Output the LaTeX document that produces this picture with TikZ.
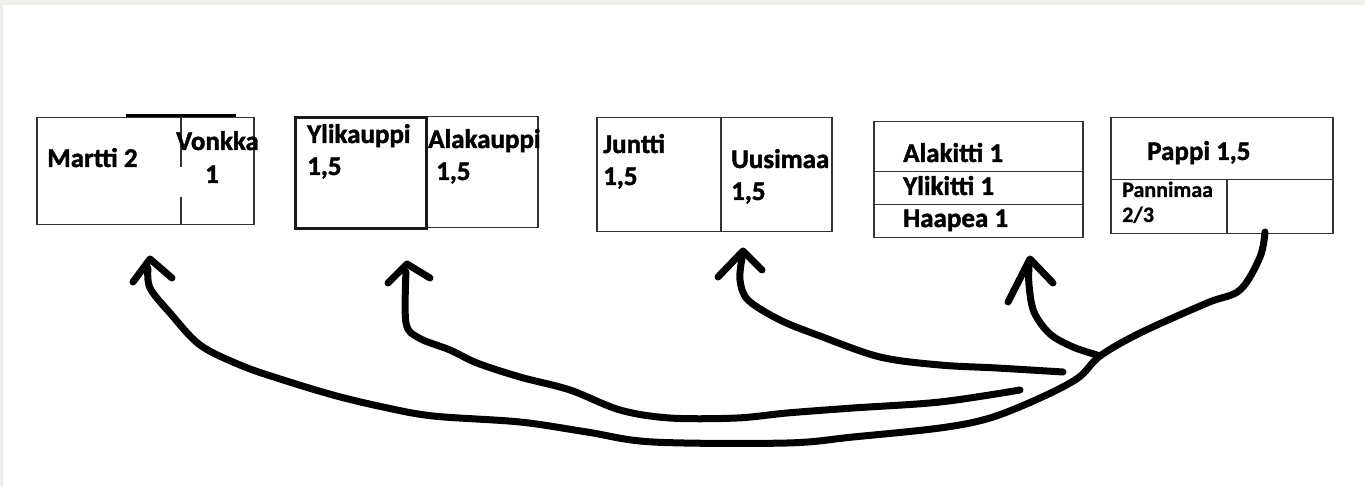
\documentclass[tikz,border=0pt]{standalone}
\usepackage{fontspec}
\setmainfont{Carlito}
\newfontfamily\heavy[BoldFeatures={FakeBold=1.5}]{Carlito}
\newfontfamily\heavysm[BoldFeatures={FakeBold=0.8}]{Carlito}
\definecolor{edgegray}{RGB}{240,238,235}
\begin{document}
\begin{tikzpicture}[x=1pt,y=-1pt,
  cell/.style={draw=black!80, line width=1.5pt, rectangle, inner sep=0pt, anchor=north west},
  lbl/.style={anchor=base west, inner sep=0pt, font=\heavy\fontsize{27}{30}\selectfont\bfseries},
  smalllbl/.style={anchor=base west, inner sep=0pt, font=\heavysm\fontsize{22}{25}\selectfont\bfseries},
  stroke/.style={line width=7pt, line cap=round, line join=round, black}]
\useasboundingbox (0,0) rectangle (1365,486);
\fill[white] (0,0) rectangle (1365,486);
\fill[edgegray] (0,0) rectangle (1365,5);
\fill[edgegray] (0,0) rectangle (3,486);

% boxes
\node[cell, minimum width=217pt, minimum height=107pt] (box1) at (36,117) {};
\draw[draw=black!80, line width=1.5pt] (181,117) -- (181,167) (181,197) -- (181,224);
\draw[line width=3pt] (126,116) -- (236,116);
\node[cell, minimum width=112pt, minimum height=111pt] (alak) at (425,116) {};
\node[cell, line width=3pt, draw=black!90, minimum width=131pt, minimum height=111pt] (ylik) at (294,116) {};
\node[cell, minimum width=124pt, minimum height=114pt] (juntti) at (596,117) {};
\node[cell, minimum width=111pt, minimum height=114pt] (uusi) at (720,117) {};
\node[cell, minimum width=209pt, minimum height=50pt] (alakitti) at (873,121) {};
\node[cell, minimum width=209pt, minimum height=33pt] (ylikitti) at (873,171) {};
\node[cell, minimum width=209pt, minimum height=33pt] (haapea) at (873,204) {};
\node[cell, minimum width=222pt, minimum height=62pt] (pappi) at (1110,117) {};
\node[cell, minimum width=116pt, minimum height=54pt] (pannimaa) at (1110,179) {};
\node[cell, minimum width=106pt, minimum height=54pt] (empty) at (1226,179) {};

% labels
\node[lbl] (t1) at (47,167) {Martti 2};
\node[lbl] (t2) at (176,150) {Vonkka};
\node[lbl] (t3) at (205,183) {1};
\node[lbl] (t4) at (307,143) {Ylikauppi};
\node[lbl] (t5) at (307,175) {1,5};
\node[lbl] (t6) at (428,148) {Alakauppi};
\node[lbl] (t7) at (436,180) {1,5};
\node[lbl] (t8) at (603,153) {Juntti};
\node[lbl] (t9) at (603,185) {1,5};
\node[lbl] (t10) at (731,168) {Uusimaa};
\node[lbl] (t11) at (731,200) {1,5};
\node[lbl] (t12) at (903,162) {Alakitti 1};
\node[lbl] (t13) at (903,195) {Ylikitti 1};
\node[lbl] (t14) at (903,227) {Haapea 1};
\node[lbl] (t15) at (1147,160) {Pappi 1,5};
\node[smalllbl] (t16) at (1122,197) {Pannimaa};
\node[smalllbl] (t17) at (1122,222) {2/3};

% connector coordinates
\coordinate (start) at (1265,232);
\coordinate (tipA) at (150,259);
\coordinate (tipB) at (407,264);
\coordinate (tipC) at (743,251);
\coordinate (tipD) at (1030,259);
\coordinate (jB) at (1020,390);
\coordinate (jC) at (1063,372);
\coordinate (jD) at (1097,355);

% main curve: Pappi -> Martti
\draw[stroke] plot[smooth, tension=0.55] coordinates {(start) (1260,257) (1240,290) (1207,303) (1140,333) (1100,356) (1078,378) (1040,398) (990,418) (940,428) (853,437) (787,443) (653,442) (587,432) (520,422) (433,416) (383,407) (333,395) (277,378) (240,365) (200,345) (170,313) (150,288) (148,268)};
\draw[stroke] (133,282) -- (tipA) -- (172,278);

% Ylikauppi
\draw[stroke] plot[smooth, tension=0.55] coordinates {(jB) (940,402) (853,408) (787,413) (737,418) (670,418) (620,410) (570,390) (520,377) (477,363) (450,350) (419,338) (406,323) (406,272)};
\draw[stroke] (388,283) -- (tipB) -- (430,278);

% Juntti/Uusimaa
\draw[stroke] plot[smooth, tension=0.55] coordinates {(jC) (997,368) (940,365) (880,357) (820,336) (780,320) (748,300) (740,280) (742,258)};
\draw[stroke] (718,277) -- (tipC) -- (762,270);

% Haapea
\draw[stroke] plot[smooth, tension=0.55] coordinates {(jD) (1073,347) (1050,334) (1034,312) (1029,285) (1029,266)};
\draw[stroke] (1008,302) -- (tipD) -- (1053,283);
\end{tikzpicture}
\end{document}
